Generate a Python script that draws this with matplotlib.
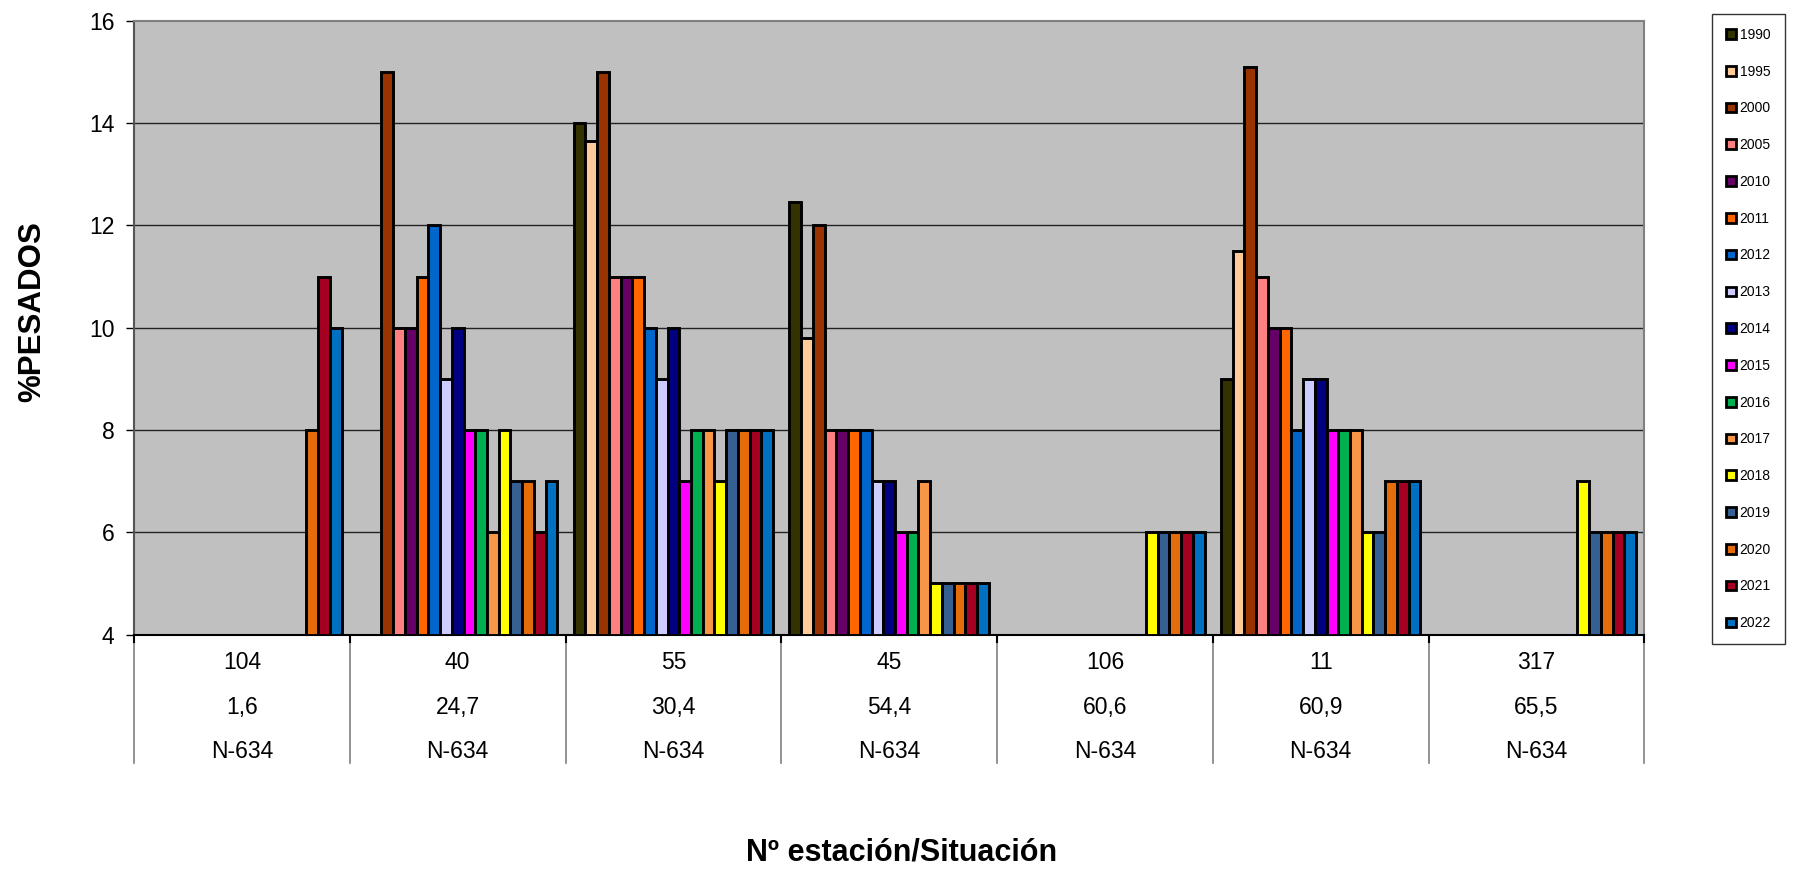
import numpy as np
import matplotlib
matplotlib.use("Agg")
import matplotlib.pyplot as plt
from matplotlib.patches import Patch
from matplotlib import font_manager

plt.rcParams['font.family'] = ['Liberation Sans', 'DejaVu Sans']

stations = ["104", "40", "55", "45", "106", "11", "317"]
km = ["1,6", "24,7", "30,4", "54,4", "60,6", "60,9", "65,5"]
roads = ["N-634"] * 7

years = ["1990", "1995", "2000", "2005", "2010", "2011", "2012", "2013", "2014",
         "2015", "2016", "2017", "2018", "2019", "2020", "2021", "2022"]
colors = ["#333300", "#FFCC99", "#993300", "#FF8080", "#660066", "#FF6600",
          "#0066CC", "#CCCCFF", "#000080", "#FF00FF", "#00B050", "#F79646",
          "#FFFF00", "#366092", "#E46C0A", "#A50021", "#0070C0"]

N = None
# values per station (one list per year, order of stations)
v1990 = [N, N, 14, 12.45, N, 9, N]
v1995 = [N, N, 13.65, 9.8, N, 11.5, N]
v2000 = [N, 15, 15, 12, N, 15.1, N]
v2005 = [N, 10, 11, 8, N, 11, N]
v2010 = [N, 10, 11, 8, N, 10, N]
v2011 = [N, 11, 11, 8, N, 10, N]
v2012 = [N, 12, 10, 8, N, 8, N]
v2013 = [N, 9, 9, 7, N, 9, N]
v2014 = [N, 10, 10, 7, N, 9, N]
v2015 = [N, 8, 7, 6, N, 8, N]
v2016 = [N, 8, 8, 6, N, 8, N]
v2017 = [N, 6, 8, 7, N, 8, N]
v2018 = [N, 8, 7, 5, 6, 6, 7]
v2019 = [N, 7, 8, 5, 6, 6, 6]
v2020 = [8, 7, 8, 5, 6, 7, 6]
v2021 = [11, 6, 8, 5, 6, 7, 6]
v2022 = [10, 7, 8, 5, 6, 7, 6]
series = [v1990, v1995, v2000, v2005, v2010, v2011, v2012, v2013, v2014,
          v2015, v2016, v2017, v2018, v2019, v2020, v2021, v2022]

ymin, ymax = 4, 16

fig = plt.figure(figsize=(17.99, 8.71), dpi=100)
ax = fig.add_axes([0.0745, 0.2714, 0.914 - 0.0745, 0.976 - 0.2714])
ax.set_facecolor("#C0C0C0")

ng = len(stations)
ns = len(years)
w = 1.0 / (ns + 1.4)
x = np.arange(ng)
for j, (vals, c) in enumerate(zip(series, colors)):
    arr = np.array([np.nan if v is None else v for v in vals], dtype=float)
    ok = ~np.isnan(arr)
    ax.bar(x[ok] + (j - (ns - 1) / 2) * w, arr[ok] - ymin, bottom=ymin, width=w,
           color=c, edgecolor="black", linewidth=2.1, zorder=3)

ax.set_xlim(-0.5, ng - 0.5)
ax.set_ylim(ymin, ymax)
ax.set_yticks(np.arange(4, 17, 2))
ax.tick_params(axis="y", labelsize=16.5, length=6, width=1, direction="out", pad=8)
for yv in range(6, 16, 2):
    ax.axhline(yv, color="#222222", lw=1, zorder=1)

ax.set_xticks(np.arange(-0.5, ng, 1.0))
ax.set_xticklabels([])
ax.tick_params(axis="x", length=6, width=1.5, direction="out", color="black")

for s in ["top", "right"]:
    ax.spines[s].set_color("#808080")
    ax.spines[s].set_linewidth(1.5)
ax.spines["left"].set_color("#555555")
ax.spines["left"].set_linewidth(1.5)
ax.spines["bottom"].set_color("black")
ax.spines["bottom"].set_linewidth(1.5)

trans = ax.get_xaxis_transform()
for b in np.arange(-0.5, ng, 1.0):
    ax.plot([b, b], [0, -0.21], transform=trans, color="#808080", lw=1.2,
            clip_on=False, zorder=0)

for i in range(ng):
    ax.text(i, -0.046, stations[i], transform=trans, ha="center", va="center", fontsize=16.5)
    ax.text(i, -0.1195, km[i], transform=trans, ha="center", va="center", fontsize=16.5)
    ax.text(i, -0.191, roads[i], transform=trans, ha="center", va="center", fontsize=16.5)

# axis titles
narrow = None
for f in font_manager.fontManager.ttflist:
    if "Narrow" in f.name and "Liberation" in f.name:
        narrow = f.name
        break
yfam = [narrow, 'Liberation Sans', 'DejaVu Sans'] if narrow else ['Liberation Sans', 'DejaVu Sans']
fig.text(0.018, 0.642, "%PESADOS", rotation=90, ha="center", va="center",
         fontsize=25 if narrow else 22.5, fontweight="bold", family=yfam)
fig.text(0.501, 0.021, "Nº estación/Situación", ha="center", va="center",
         fontsize=22, fontweight="bold")

handles = [Patch(facecolor=c, edgecolor="black", linewidth=2) for c in colors]
leg = fig.legend(handles, years, loc="upper left", bbox_to_anchor=(0.9516, 0.984),
                 fontsize=10, frameon=True, fancybox=False, shadow=False,
                 handlelength=0.7, handleheight=0.7, handletextpad=0.3,
                 labelspacing=1.64, borderpad=1.0, borderaxespad=0)
leg.get_frame().set_edgecolor("black")
leg.get_frame().set_linewidth(1)

fig.savefig("out.png", dpi=100)
